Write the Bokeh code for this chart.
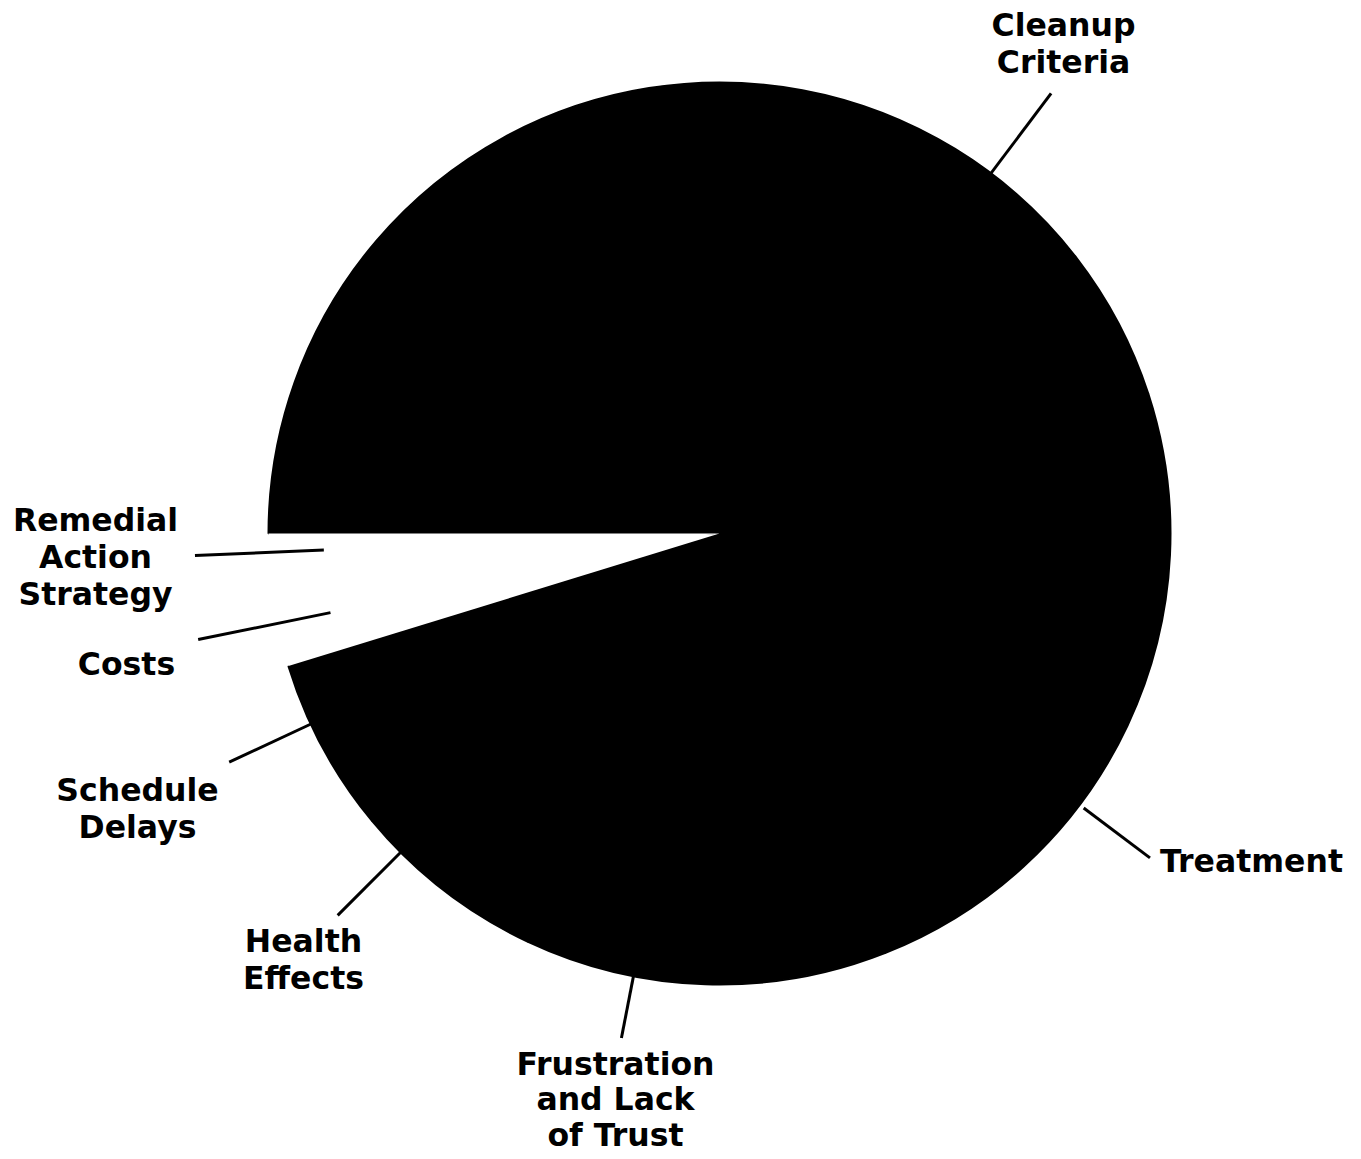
import numpy as np
from bokeh.plotting import figure
from bokeh.models import Range1d, ColumnDataSource
from bokeh.core.properties import value
from bokeh.embed import file_html
from bokeh.resources import INLINE

# ---- data ----
categories = ["Cleanup Criteria", "Treatment", "Frustration and Lack of Trust",
              "Health Effects", "Schedule Delays", "Costs", "Remedial Action Strategy"]
shares = [45.0, 24.0, 13.0, 7.0, 6.25, 3.0, 1.75]
slice_colors = ["black", "black", "black", "black", "black", "white", "white"]
label_lines = [["Cleanup", "Criteria"], ["Treatment"], ["Frustration", "and Lack", "of Trust"],
               ["Health", "Effects"], ["Schedule", "Delays"], ["Costs"],
               ["Remedial", "Action", "Strategy"]]

# ---- layout (reference pixel space, y measured downward) ----
W, H = 1353, 1151
CX, CY, R = 719, 533, 451
label_x = [1063, 1251, 615, 303, 137, 126, 95]
label_y = [24, 860, 1063, 940, 789, 663, 519]
line_steps = [37, 37, 35.5, 37, 37, 37, 37]
leader_deg = [53, -37, -101, 225, 205, 191.5, 182.4]
leader_r1 = [409, 456, 443, 449, 449, 397, 396]
leader_r2 = [551, 539, 514, 540, 541, 532, 525]

def fy(y):
    return 1159 - y

p = figure(width=W, height=H, x_range=Range1d(0, W), y_range=Range1d(fy(H), fy(0)),
           output_backend="svg", toolbar_location=None, min_border=0)
p.axis.visible = False
p.grid.visible = False
p.outline_line_color = None
p.background_fill_color = "white"
p.border_fill_color = "white"

fr = np.array(shares) / sum(shares)
cum = np.concatenate([[0], np.cumsum(fr)])
start = np.pi - cum[:-1] * 2 * np.pi
end = np.pi - cum[1:] * 2 * np.pi
edge_alpha = [1.0 if c == "black" else 0.0 for c in slice_colors]
src = ColumnDataSource(dict(x=[CX] * len(shares), y=[fy(CY)] * len(shares),
                            s=start, e=end, c=slice_colors, la=edge_alpha, cat=categories))
p.wedge(x="x", y="y", radius=R, start_angle="s", end_angle="e", direction="clock",
        fill_color="c", line_color="c", line_alpha="la", line_width=2, source=src)

# leader lines
a = np.radians(leader_deg)
x0 = CX + np.array(leader_r1) * np.cos(a)
y0 = fy(CY) + np.array(leader_r1) * np.sin(a)
x1 = CX + np.array(leader_r2) * np.cos(a)
y1 = fy(CY) + np.array(leader_r2) * np.sin(a)
p.segment(x0=x0, y0=y0, x1=x1, y1=y1, line_color="black", line_width=3)

# labels
tx, ty, tt = [], [], []
for lx, ly, st, lines in zip(label_x, label_y, line_steps, label_lines):
    for i, t in enumerate(lines):
        tx.append(lx)
        ty.append(fy(ly + i * st))
        tt.append(t)
p.text(x=tx, y=ty, text=tt, text_align="center", text_baseline="middle",
       text_font=value("DejaVu Sans"), text_font_style="bold", text_font_size="31.5px",
       text_color="black")

open("out.html", "w").write(file_html(p, INLINE))
